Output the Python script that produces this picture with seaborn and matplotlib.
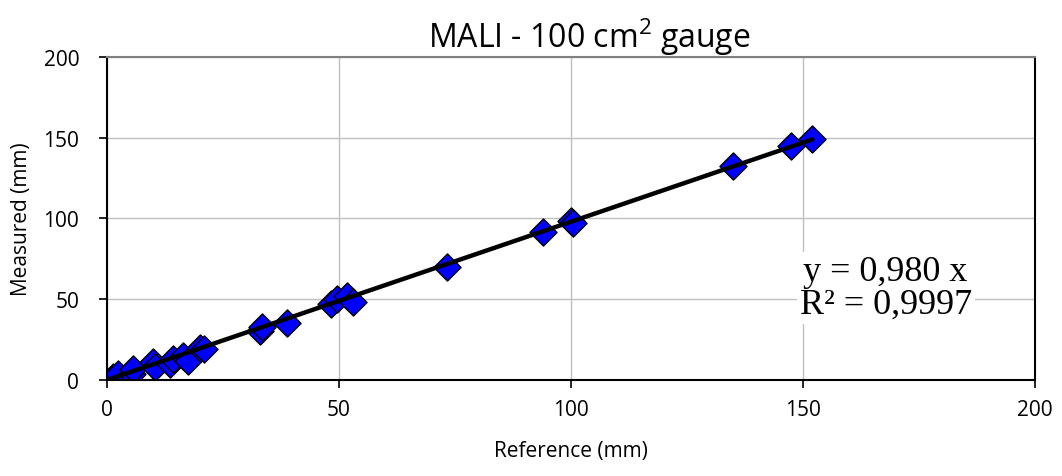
import matplotlib
matplotlib.use("Agg")
import matplotlib.pyplot as plt
import seaborn as sns
import numpy as np
import pandas as pd

# Paired readings: reference gauge vs. 100 cm² gauge (mm)
reference = [1.2, 2.4, 5.3, 5.7, 10.0, 10.3, 13.6, 14.3, 16.4, 17.5, 20.0, 21.0,
             33.0, 33.3, 38.8, 48.3, 49.5, 51.7, 53.0, 73.3, 94.0, 100.0, 100.5,
             135.0, 147.5, 152.0]
measured = [1.6, 3.7, 3.7, 6.8, 11.0, 7.8, 10.0, 13.0, 15.0, 12.0, 20.0, 19.0,
            30.3, 33.0, 35.3, 47.0, 50.0, 52.0, 48.0, 70.0, 91.6, 98.5, 97.5,
            132.5, 145.0, 149.0]
slope = 0.980
r_squared = "0,9997"

title = "MALI - 100 cm$^{2}$ gauge"
x_label = "Reference (mm)"
y_label = "Measured (mm)"
ticks = [0, 50, 100, 150, 200]

df = pd.DataFrame({"Reference": reference, "Measured": measured})

sns.set_theme(style="white")
plt.rcParams["font.family"] = ["Open Sans", "DejaVu Sans"]
plt.rcParams["mathtext.fontset"] = "custom"
plt.rcParams["mathtext.rm"] = "Open Sans"
plt.rcParams["text.color"] = "black"
plt.rcParams["axes.labelcolor"] = "black"
plt.rcParams["xtick.color"] = "black"
plt.rcParams["ytick.color"] = "black"

fig = plt.figure(figsize=(10.62, 4.77), dpi=100)
ax = fig.add_axes([0.1008, 0.2013, 0.8738, 0.6771])

ax.grid(True, color="#c0c0c0", linewidth=1.0, zorder=0)
ax.set_axisbelow(True)

# Regression line through the origin
fit_x = np.array([0.0, max(reference)])
sns.lineplot(x=fit_x, y=slope * fit_x, ax=ax, color="black", linewidth=3.2,
             zorder=3, legend=False)

sns.scatterplot(data=df, x="Reference", y="Measured", ax=ax, marker="D",
                s=190, color="#0000ff", edgecolor="black", linewidth=1.0,
                zorder=2, legend=False)

ax.set_xlim(0, 200)
ax.set_ylim(0, 200)
ax.set_xticks(ticks)
ax.set_yticks(ticks)
ax.tick_params(axis="both", which="both", direction="out", length=6, width=1.2,
               color="black", labelcolor="black", labelsize=15,
               bottom=True, left=True)
ax.tick_params(axis="y", pad=14)
ax.tick_params(axis="x", pad=8)

for side in ["left", "bottom", "right"]:
    ax.spines[side].set_color("black")
    ax.spines[side].set_linewidth(1.5)
ax.spines["top"].set_color("#808080")
ax.spines["top"].set_linewidth(1.5)

ax.set_xlabel(x_label, fontsize=15, labelpad=14)
ax.set_ylabel(y_label, fontsize=15, labelpad=8)
ax.set_title(title, fontsize=23, pad=7, x=0.52)

ax.text(0.839, 0.285, f"y = {slope:.3f} x".replace(".", ",") + f"\nR² = {r_squared}",
        transform=ax.transAxes, ha="center", va="center", fontsize=26,
        family=["Liberation Serif", "DejaVu Serif"], linespacing=1.0,
        bbox=dict(facecolor="white", edgecolor="none", pad=2), zorder=5)

fig.savefig("out.png", dpi=100)
